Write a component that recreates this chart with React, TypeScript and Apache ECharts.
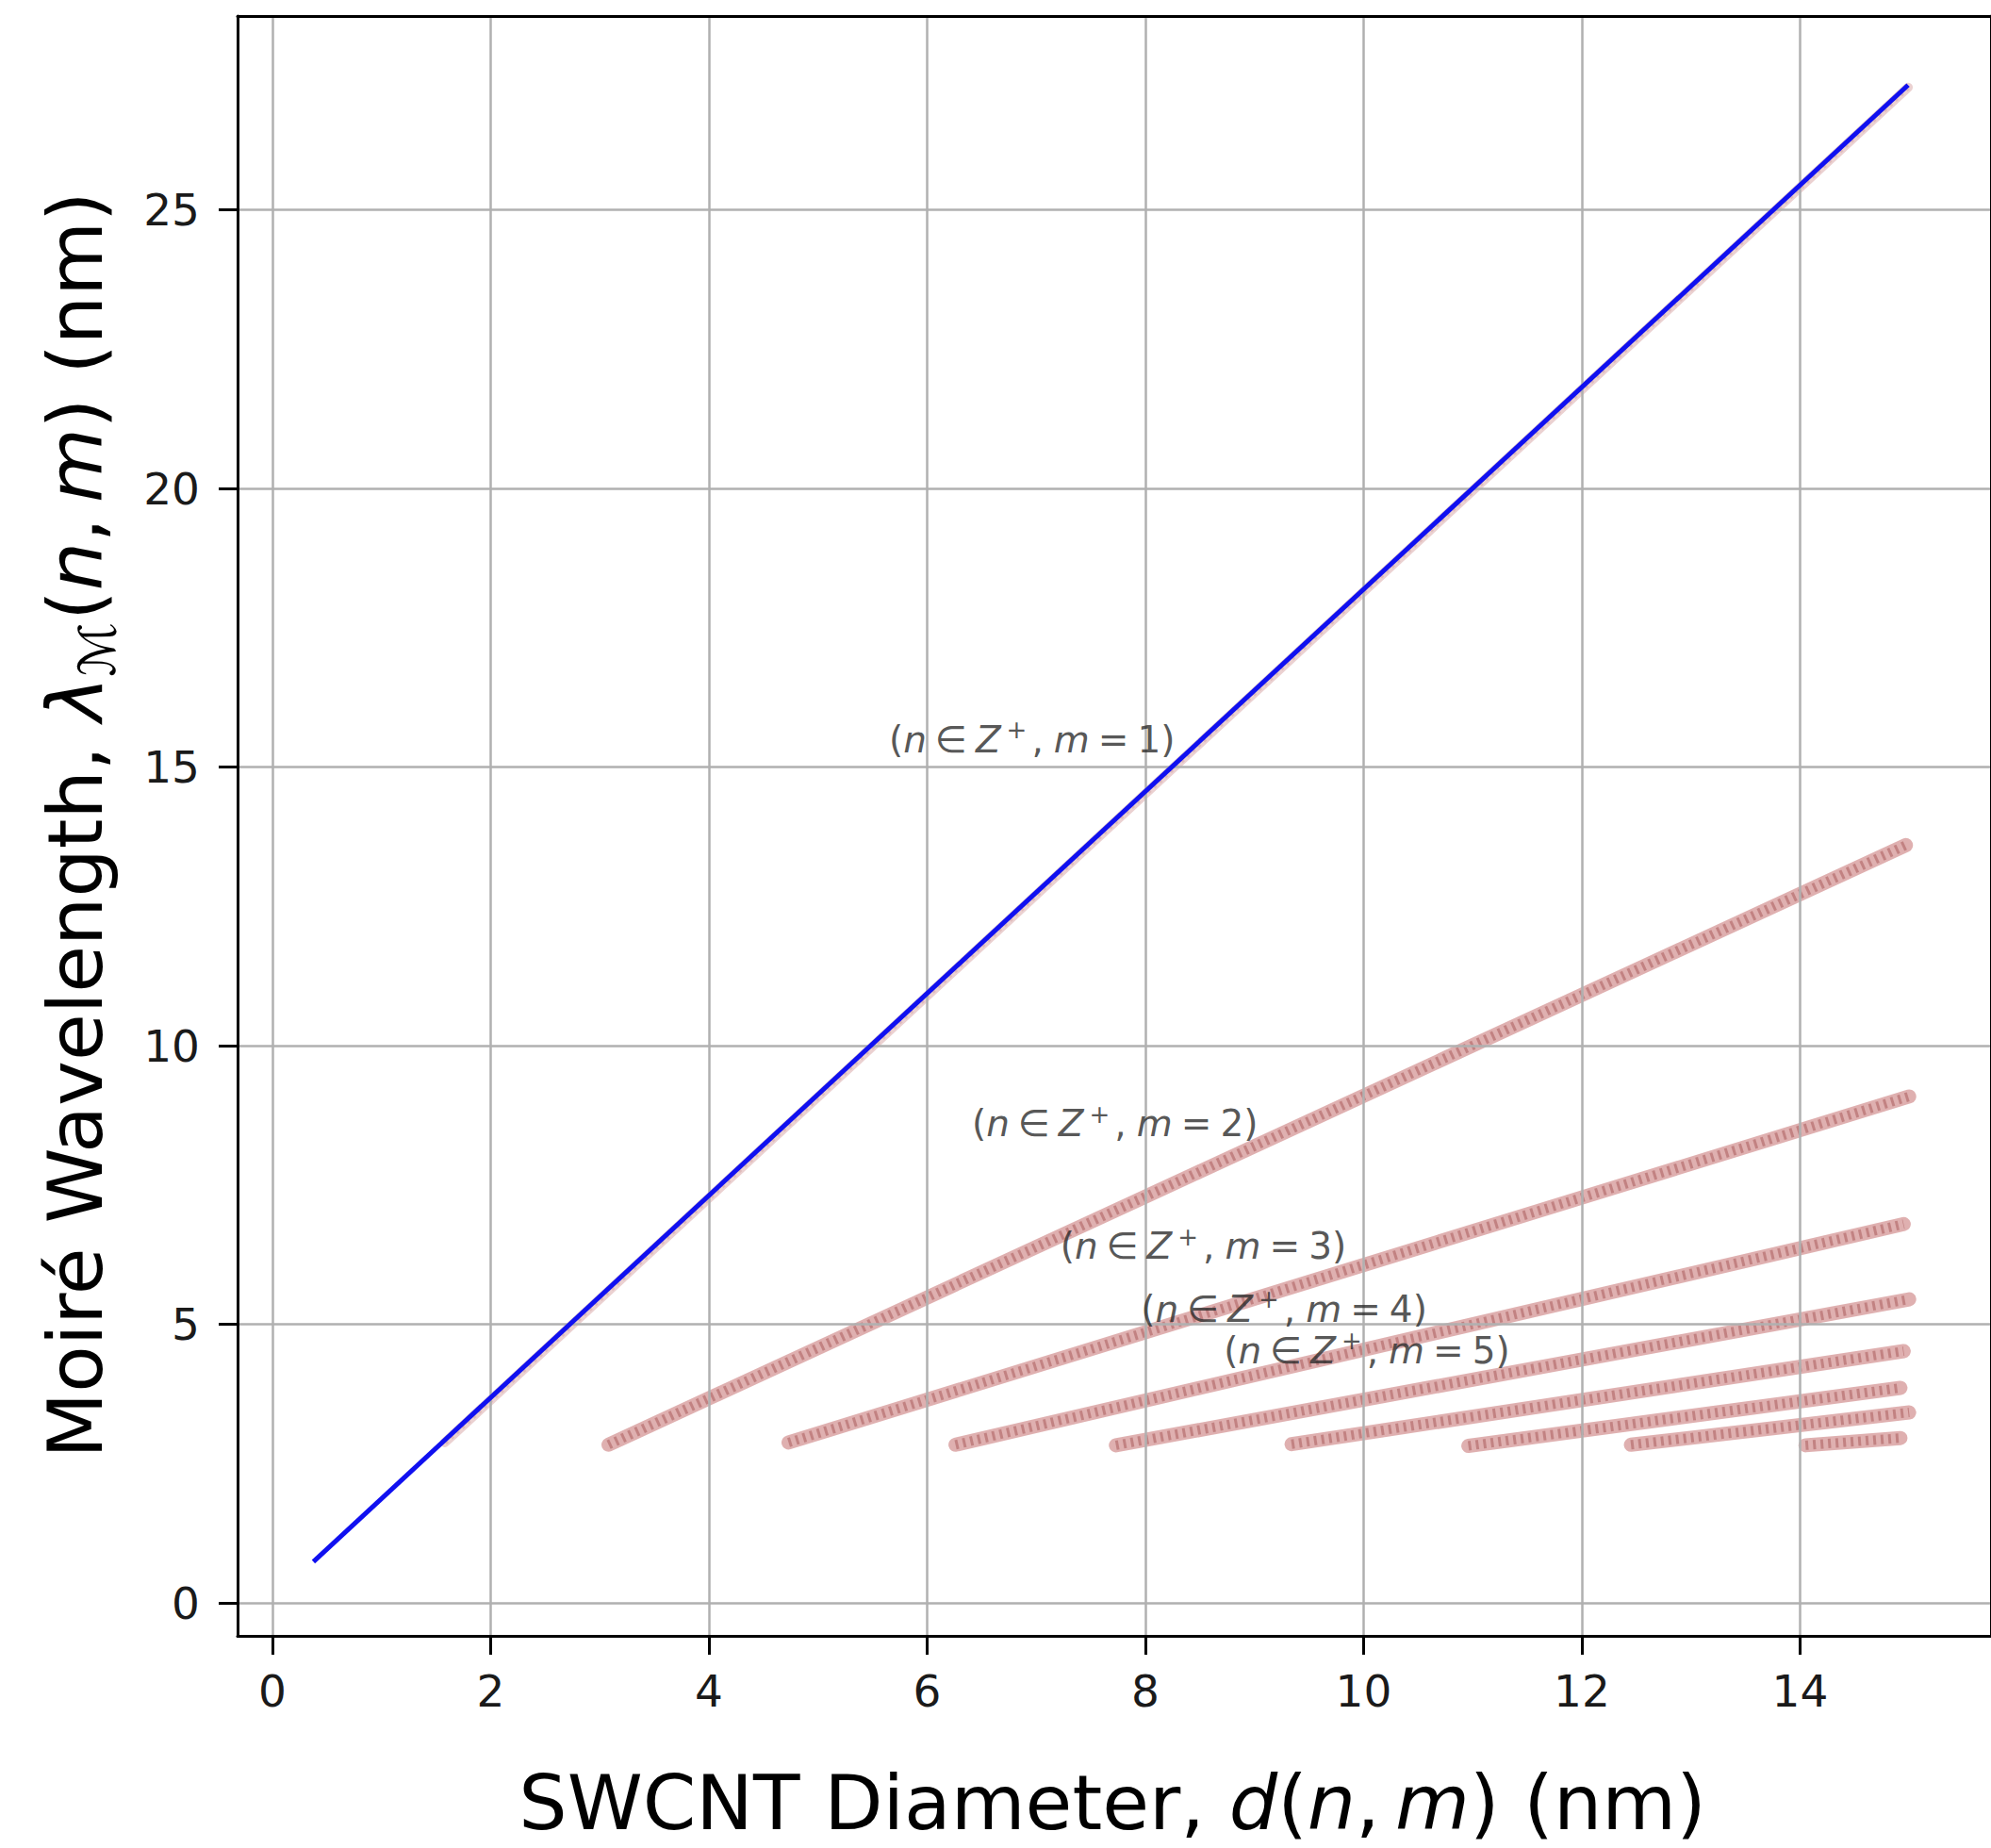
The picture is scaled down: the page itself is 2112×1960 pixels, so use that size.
import React, { useEffect, useRef } from "react";
import * as echarts from "echarts";

// ---- axis setup ----
const X_TICKS = [0, 2, 4, 6, 8, 10, 12, 14];
const Y_TICKS = [0, 5, 10, 15, 20, 25];
const X_RANGE = [-0.32, 15.75];
const Y_RANGE = [-0.59, 28.48];

// ---- blue reference line (m = 1 fit) ----
const blueLineX = [0.375, 14.99];
const blueLineY = [0.74, 27.24];

// ---- dotted (n, m) families: start and end points ----
const familyM = [1, 2, 3, 4, 5, 6, 7, 8, 9];
const familyStartX = [1.58, 3.08, 4.73, 6.26, 7.73, 9.34, 10.96, 12.45, 14.05];
const familyStartY = [2.88, 2.84, 2.88, 2.84, 2.83, 2.85, 2.82, 2.84, 2.83];
const familyEndX = [14.99, 14.97, 15.0, 14.95, 15.0, 14.95, 14.92, 15.0, 14.92];
const familyEndY = [27.2, 13.6, 9.09, 6.8, 5.45, 4.52, 3.86, 3.42, 2.96];

// ---- annotations ----
const annotM = [1, 2, 3, 4, 5];
const annotX = [5.65, 6.41, 7.22, 7.96, 8.72];
const annotY = [15.5, 8.6, 6.4, 5.28, 4.53];

const FONT = "DejaVu Sans";

export default function App() {
  const ref = useRef<HTMLDivElement>(null);

  useEffect(() => {
    if (!ref.current) return;
    const chart = echarts.init(ref.current, undefined, { renderer: "svg" });

    const strandSeries: any[] = [];
    familyM.forEach((m, i) => {
      const data = [
        [familyStartX[i], familyStartY[i]],
        [familyEndX[i], familyEndY[i]],
      ];
      const faint = m === 1;
      strandSeries.push({
        type: "line",
        name: "m" + m + "base",
        data,
        showSymbol: false,
        silent: true,
        z: 1,
        lineStyle: {
          color: faint ? "rgba(205,140,140,0.4)" : "rgba(210,145,145,0.72)",
          width: faint ? 10 : 15,
          cap: "round",
        },
      });
      strandSeries.push({
        type: "line",
        name: "m" + m + "tex",
        data,
        showSymbol: false,
        silent: true,
        z: 1,
        lineStyle: {
          color: faint ? "rgba(170,90,90,0.18)" : "rgba(160,75,75,0.45)",
          width: faint ? 6 : 10,
          type: [3, 5],
          cap: "butt",
        },
      });
    });

    const C = "#2a2a2a";
    const FS = 39;
    const labelRich = {
      p: { fontFamily: FONT, fontSize: FS, color: C, lineHeight: 46 },
      i: { fontFamily: FONT, fontSize: FS, fontStyle: "italic", color: C, lineHeight: 46 },
      r: { fontFamily: FONT, fontSize: FS, color: C, lineHeight: 46, padding: [0, 9, 0, 9] },
      s: { fontFamily: FONT, fontSize: 26, color: C, lineHeight: 46, verticalAlign: "top", padding: [0, 5, 0, 6] },
      c: { fontFamily: FONT, fontSize: FS, color: C, lineHeight: 46, padding: [0, 11, 0, 0] },
    };

    const axisCommon = {
      axisLine: { show: true, onZero: false, lineStyle: { color: "#000", width: 3 } },
      splitLine: { show: true, lineStyle: { color: "#b0b0b0", width: 2.5 } },
    };

    chart.setOption({
      animation: false,
      backgroundColor: "#ffffff",
      grid: { left: 252, top: 17, width: 1871, height: 1718, containLabel: false, show: false },
      xAxis: [
        {
          type: "value",
          min: X_RANGE[0],
          max: X_RANGE[1],
          splitNumber: 8,
          z: 3,
          ...axisCommon,
          axisTick: { show: true, inside: false, length: 20, customValues: X_TICKS, lineStyle: { color: "#000", width: 3 } },
          axisLabel: { customValues: X_TICKS, margin: 35, fontFamily: FONT, fontSize: 47, color: "#1a1a1a" },
        },
        {
          type: "value",
          position: "top",
          min: X_RANGE[0],
          max: X_RANGE[1],
          z: 3,
          axisLine: { show: true, onZero: false, lineStyle: { color: "#000", width: 3 } },
          axisTick: { show: false },
          axisLabel: { show: false },
          splitLine: { show: false },
        },
      ],
      yAxis: [
        {
          type: "value",
          min: Y_RANGE[0],
          max: Y_RANGE[1],
          splitNumber: 6,
          z: 3,
          ...axisCommon,
          axisTick: { show: true, inside: false, length: 20, customValues: Y_TICKS, lineStyle: { color: "#000", width: 3 } },
          axisLabel: { customValues: Y_TICKS, margin: 40, fontFamily: FONT, fontSize: 47, color: "#1a1a1a" },
        },
        {
          type: "value",
          position: "right",
          min: Y_RANGE[0],
          max: Y_RANGE[1],
          z: 3,
          axisLine: { show: true, onZero: false, lineStyle: { color: "#000", width: 3 } },
          axisTick: { show: false },
          axisLabel: { show: false },
          splitLine: { show: false },
        },
      ],
      series: [
        ...strandSeries,
        {
          type: "line",
          name: "blue",
          data: blueLineX.map((x, i) => [x, blueLineY[i]]),
          showSymbol: false,
          silent: true,
          z: 4,
          lineStyle: { color: "#1010f0", width: 5 },
        },
        {
          type: "scatter",
          name: "labels",
          z: 5,
          symbolSize: 0,
          silent: true,
          data: annotM.map((m, i) => [annotX[i], annotY[i], m]),
          label: {
            show: true,
            position: "right",
            distance: 0,
            formatter: (p: any) =>
              "{p|(}{i|n}{r|∈}{i|Z}{s|+}{c|,}{i|m}{r|=}{p|" + p.value[2] + ")}",
            rich: labelRich,
          },
        },
      ],
      graphic: [
        {
          type: "text",
          x: 1180,
          y: 1912,
          silent: true,
          style: {
            text: "{t|SWCNT Diameter, }{i|d}{t|(}{i|n}{t|,\u2009}{i|m}{t|) (nm)}",
            align: "center",
            verticalAlign: "middle",
            rich: {
              t: { fontFamily: FONT, fontSize: 81, fill: "#000" },
              i: { fontFamily: FONT, fontSize: 81, fontStyle: "italic", fill: "#000" },
            },
          },
        },
        {
          type: "text",
          x: 80,
          y: 875,
          rotation: Math.PI / 2,
          silent: true,
          style: {
            text: "{t|Moiré Wavelength, }{i|λ}{sub|ℳ}{t|(}{i|n}{t|,\u2009}{i|m}{t|) (nm)}",
            align: "center",
            verticalAlign: "middle",
            rich: {
              t: { fontFamily: FONT, fontSize: 81, fill: "#000", lineHeight: 100 },
              i: { fontFamily: FONT, fontSize: 81, fontStyle: "italic", fill: "#000", lineHeight: 100 },
              sub: { fontFamily: FONT, fontSize: 54, fontStyle: "italic", fill: "#000", lineHeight: 100, verticalAlign: "bottom", padding: [0, 2, 0, 0] },
            },
          },
        },
      ],
    });

    return () => chart.dispose();
  }, []);

  return (
    <div
      ref={ref}
      style={{ position: "absolute", left: 0, top: 0, width: 2112, height: 1960, background: "#fff" }}
    />
  );
}
